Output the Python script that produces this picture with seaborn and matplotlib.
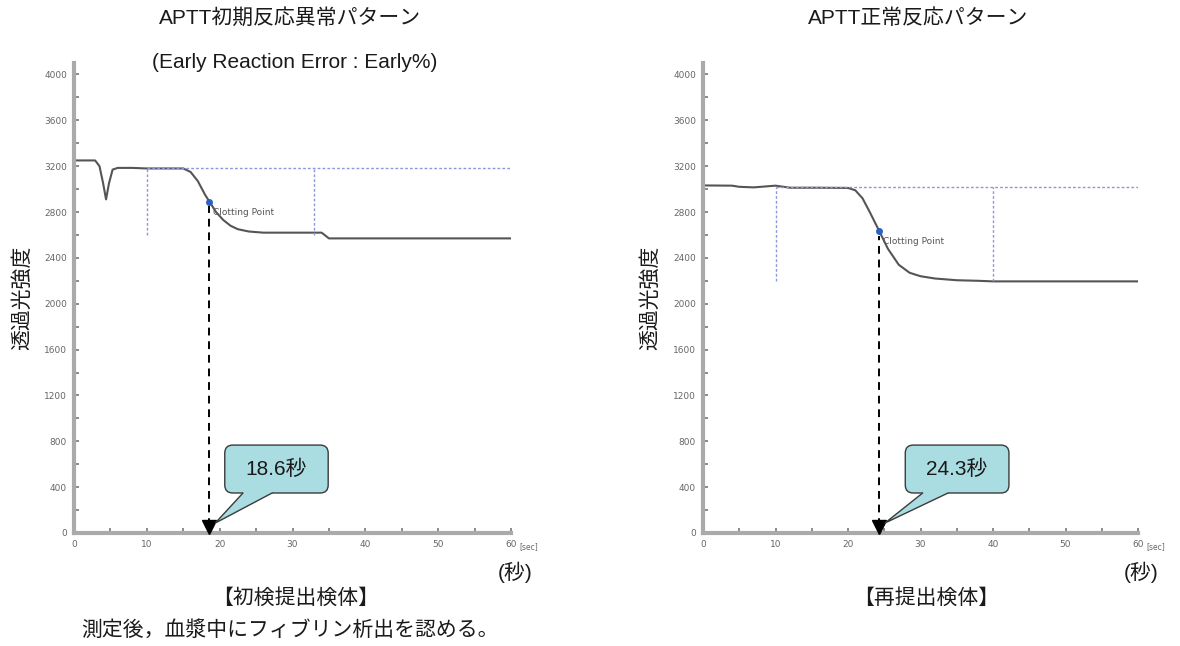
import matplotlib.pyplot as plt
import seaborn as sns
import pandas as pd
from matplotlib.patches import FancyBboxPatch, Polygon

sns.set_theme(style="white")
plt.rcParams['font.family'] = ['Liberation Sans', 'Noto Sans CJK JP', 'DejaVu Sans']
plt.rcParams['text.color'] = '#1a1a1a'

# left panel: early reaction error
left_t = [0, 2.9, 3.5, 4.0, 4.4, 4.8, 5.3, 6, 8, 10, 12, 15, 16, 17, 18, 18.6,
          19.5, 20.5, 21.5, 22.5, 24, 26, 30, 34, 35, 60]
left_v = [3250, 3250, 3200, 3050, 2910, 3050, 3170, 3185, 3185, 3180, 3180, 3180,
          3150, 3070, 2950, 2890, 2800, 2730, 2680, 2650, 2630, 2620, 2620, 2620,
          2570, 2570]
left_clot = (18.6, 2890)
left_base, left_end = 3180, 2600
left_marks = [10, 33]

# right panel: normal reaction
right_t = [0, 4, 5, 7, 9, 10, 12, 16, 20, 21, 22, 23, 24.3, 25.5, 27, 28.5, 30,
           32, 35, 38, 40, 60]
right_v = [3032, 3030, 3020, 3015, 3025, 3030, 3012, 3012, 3010, 2990, 2920, 2800,
           2635, 2480, 2340, 2270, 2240, 2220, 2205, 2200, 2195, 2195]
right_clot = (24.3, 2635)
right_base, right_end = 3020, 2195
right_marks = [10, 40]

y_ticks = list(range(0, 4001, 400))
x_ticks = [0, 10, 20, 30, 40, 50, 60]

W, H = 1180, 646
fig = plt.figure(figsize=(11.8, 6.46), dpi=100)
ax_l = fig.add_axes([74 / W, 1 - 533 / H, 437 / W, 470 / H])
ax_r = fig.add_axes([703 / W, 1 - 533 / H, 435 / W, 470 / H])

FILL = "#aadde2"
EDGE = "#3a3a3a"


def callout(ax, label, tip, box, tail):
    # box = (x0, x1, y0, y1), tail = (xa, xb) on the box bottom
    x0, x1, y0, y1 = box
    aspect = (4100 / 470) / (60 / (ax.get_position().width * W))
    ax.add_patch(FancyBboxPatch((x0, y0), x1 - x0, y1 - y0,
                                boxstyle="round,pad=0,rounding_size=1.1",
                                mutation_aspect=aspect, fc=FILL, ec=EDGE, lw=1,
                                zorder=6))
    xa, xb = tail
    ax.add_patch(Polygon([(xa, y0 + 40), (xa, y0), tip, (xb, y0), (xb, y0 + 40)],
                         closed=True, fc=FILL, ec="none", zorder=7))
    ax.plot([xa, tip[0], xb], [y0, tip[1], y0], color=EDGE, lw=1, zorder=7)
    ax.text((x0 + x1) / 2, (y0 + y1) / 2, label, fontsize=15, ha="center",
            va="center", color="#1a1a1a", zorder=8)


def draw_panel(ax, t, v, clot, base, end, marks, label, box, tail):
    df = pd.DataFrame({"t": t, "v": v})
    sns.lineplot(data=df, x="t", y="v", ax=ax, color="#555555", lw=1.5, sort=False)
    # reference dashed lines
    ax.hlines(base, marks[0], 60, colors="#8c98dc", lw=1, linestyles=(0, (2, 1.5)))
    ax.vlines(marks, end, base, colors="#8c98dc", lw=1, linestyles=(0, (2, 1.5)))
    # clotting point
    ax.plot(clot[0], clot[1], "o", color="#2a62c4", ms=4, zorder=5)
    ax.text(clot[0] + 0.5, clot[1] - 95, "Clotting Point", fontsize=6.5,
            color="#555555", va="center", family="DejaVu Sans")
    # dashed drop line with arrow head
    ax.vlines(clot[0], 60, clot[1] - 40, colors="black", lw=1.4, linestyles=(0, (4, 3)))
    ax.plot(clot[0], 50, marker="v", color="black", ms=10, clip_on=False, zorder=6)
    callout(ax, label, (clot[0] + 0.8, 87), box, tail)

    ax.set_xlim(0, 60)
    ax.set_ylim(0, 4100)
    ax.set_xticks(x_ticks)
    ax.set_xticks(range(0, 61, 5), minor=True)
    ax.set_yticks(y_ticks)
    ax.set_yticks(range(0, 4001, 200), minor=True)
    ax.set_xticklabels(x_ticks, fontsize=6.5, color="#666666", family="DejaVu Sans")
    ax.set_yticklabels(y_ticks, fontsize=6.5, color="#666666", family="DejaVu Sans")
    ax.tick_params(which="both", direction="in", length=3.5, width=1.2,
                   color="#777777", bottom=True, left=True, pad=5)
    ax.set_xlabel("")
    ax.set_ylabel("")
    for s in ["top", "right"]:
        ax.spines[s].set_visible(False)
    for s in ["left", "bottom"]:
        ax.spines[s].set_color("#aaaaaa")
        ax.spines[s].set_linewidth(3)
    ax.text(1.02, -0.03, "[sec]", transform=ax.transAxes, fontsize=5.5,
            color="#666666", va="center", family="DejaVu Sans")


draw_panel(ax_l, left_t, left_v, left_clot, left_base, left_end, left_marks,
           "18.6秒", (20.7, 34.9, 349, 767), (23.2, 27.2))
draw_panel(ax_r, right_t, right_v, right_clot, right_base, right_end, right_marks,
           "24.3秒", (27.9, 42.2, 349, 767), (30.3, 33.8))

fs = 15
fig.text(290 / W, 1 - 18 / H, "APTT初期反応異常パターン", ha="center", va="center", fontsize=fs)
fig.text(295 / W, 1 - 63 / H, "(Early Reaction Error : Early%)", ha="center", va="center", fontsize=fs)
fig.text(918 / W, 1 - 18 / H, "APTT正常反応パターン", ha="center", va="center", fontsize=fs)

fig.text(22 / W, 1 - 298 / H, "透過光強度", rotation=90, ha="center", va="center", fontsize=fs)
fig.text(650 / W, 1 - 298 / H, "透過光強度", rotation=90, ha="center", va="center", fontsize=fs)

fig.text(515 / W, 1 - 572 / H, "(秒)", ha="center", va="center", fontsize=fs)
fig.text(1141 / W, 1 - 572 / H, "(秒)", ha="center", va="center", fontsize=fs)
fig.text(296 / W, 1 - 598 / H, "【初検提出検体】", ha="center", va="center", fontsize=fs)
fig.text(926 / W, 1 - 598 / H, "【再提出検体】", ha="center", va="center", fontsize=fs)
fig.text(290 / W, 1 - 630 / H, "測定後，血漿中にフィブリン析出を認める。", ha="center",
         va="center", fontsize=fs)

fig.savefig("out.png", dpi=100)
